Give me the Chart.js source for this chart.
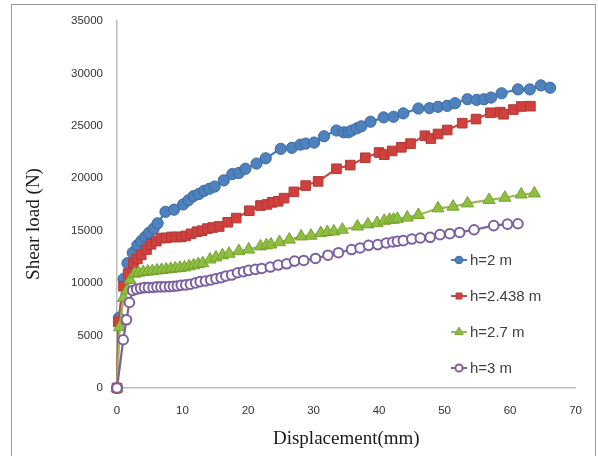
<!DOCTYPE html>
<html>
<head>
<meta charset="utf-8">
<script src="https://cdn.jsdelivr.net/npm/chart.js@4.4.1/dist/chart.umd.min.js"></script>
<style>
  html, body { margin: 0; padding: 0; background: #fff; }
  #wrap { width: 598px; height: 456px; }
</style>
</head>
<body>
<div id="wrap"><canvas id="shear" width="598" height="456"></canvas></div>
<script>
// ─── Data ───
const seriesLabels = ['h=2 m', 'h=2.438 m', 'h=2.7 m', 'h=3 m'];

const dispH2 = [0, 0.3, 1.0, 1.6, 2.4, 3.1, 3.7, 4.3, 4.9, 5.6, 6.2, 7.4, 8.7, 10.1, 10.9, 11.7, 12.5, 13.3, 14.1, 14.9,
  16.3, 17.6, 18.6, 19.6, 21.3, 22.7, 25.0, 26.7, 28.0, 28.8, 30.1, 31.6, 33.5, 34.6, 35.3, 35.8, 36.6, 37.3, 38.7,
  40.7, 42.2, 43.7, 46.0, 47.7, 49.0, 50.4, 51.6, 53.5, 54.9, 56.0, 57.1, 58.7, 61.2, 63.0, 64.7, 66.1];
const loadH2 = [0, 6700, 10400, 11900, 12900, 13600, 14000, 14400, 14800, 15200, 15700, 16800, 17000, 17500, 17900, 18300, 18500, 18800, 19000, 19200,
  19800, 20400, 20500, 20900, 21400, 21900, 22800, 22900, 23200, 23300, 23400, 24000, 24550, 24380, 24380, 24540, 24760, 24950, 25390,
  25800, 25860, 26180, 26650, 26680, 26810, 26900, 27150, 27530, 27470, 27530, 27690, 28100, 28470, 28470, 28850, 28630];

const dispH2438 = [0, 0.2, 1.0, 1.7, 2.5, 3.1, 3.7, 4.5, 5.2, 6.0, 6.7, 7.5, 8.3, 9.0, 9.8, 10.5, 11.3, 12.2, 13.0, 13.8,
  14.6, 15.6, 16.9, 18.2, 20.2, 21.9, 22.9, 23.7, 24.6, 25.5, 27.0, 28.8, 30.7, 33.5, 35.6, 37.9, 40.0, 40.8, 42.0,
  43.4, 44.8, 47.0, 47.9, 49.0, 50.4, 52.7, 54.8, 57.0, 58.5, 59.0, 60.5, 61.7, 63.1];
const loadH2438 = [0, 6300, 9700, 10900, 11900, 12300, 12700, 13200, 13700, 14000, 14300, 14300, 14400, 14400, 14400, 14500, 14700, 14900, 15000, 15200,
  15300, 15400, 15800, 16200, 16900, 17400, 17500, 17700, 17800, 18100, 18700, 19300, 19700, 20900, 21250, 21950, 22450, 22250, 22600,
  22950, 23300, 24050, 23780, 24220, 24600, 25250, 25640, 26240, 26300, 26100, 26550, 26840, 26870];

const dispH27 = [0, 0.4, 1.0, 1.5, 2.0, 2.7, 3.3, 4.0, 4.7, 5.4, 6.1, 6.8, 7.5, 8.2, 8.9, 9.6, 10.3, 11.0, 11.7, 12.4, 13.1,
  14.2, 15.1, 16.1, 17.1, 18.6, 20.1, 21.9, 22.8, 23.5, 24.8, 26.3, 28.1, 29.6, 31.1, 32.1, 33.1, 34.4, 36.7, 38.3,
  39.7, 40.8, 41.6, 42.2, 42.8, 44.3, 46.0, 49.0, 51.3, 53.5, 56.8, 59.2, 61.7, 63.7];
const loadH27 = [0, 5800, 8600, 9300, 10300, 10900, 11000, 11050, 11100, 11150, 11200, 11250, 11300, 11350, 11400, 11450, 11500, 11600, 11700, 11800, 11900,
  12250, 12450, 12650, 12800, 13050, 13200, 13500, 13600, 13680, 13900, 14150, 14450, 14520, 14770, 14870, 14930, 15090, 15400, 15600,
  15720, 15940, 16040, 16050, 16130, 16250, 16500, 17130, 17290, 17600, 17930, 18140, 18450, 18550];

const dispH3 = [0, 0.95, 1.45, 1.9, 2.4, 3.0, 3.6, 4.2, 4.8, 5.5, 6.1, 6.7, 7.3, 8.0, 8.6, 9.2, 9.8, 10.5, 11.2, 12.0,
  12.7, 13.5, 14.3, 15.1, 15.9, 16.6, 17.5, 18.4, 19.3, 20.1, 21.1, 22.1, 23.4, 24.6, 25.9, 27.1, 28.5, 30.3, 32.2,
  33.8, 35.8, 37.1, 38.4, 39.8, 41.1, 42.1, 42.8, 43.7, 45.0, 46.3, 47.8, 49.3, 50.8, 52.3, 54.5, 57.5, 59.6, 61.2];
const loadH3 = [0, 4600, 6500, 8150, 9300, 9420, 9500, 9570, 9570, 9580, 9640, 9640, 9650, 9670, 9700, 9730, 9800, 9830, 9890, 10020,
  10140, 10200, 10300, 10420, 10520, 10680, 10770, 10990, 11090, 11210, 11310, 11400, 11530, 11720, 11840, 12100, 12160, 12350, 12660,
  12900, 13200, 13350, 13600, 13670, 13830, 13920, 13990, 14050, 14200, 14300, 14370, 14620, 14710, 14830, 15090, 15480, 15620, 15660];

const xTicks = [0, 10, 20, 30, 40, 50, 60, 70];
const yTicks = [0, 5000, 10000, 15000, 20000, 25000, 30000, 35000];

// ─── Helpers ───
function pairs(xs, ys) {
    return xs.map((x, i) => ({ x, y: ys[i] }));
}

const TICK_FONT = { family: "'Liberation Sans', Arial, sans-serif", size: 11.5 };
const TITLE_FAMILY = "'Liberation Serif', 'Times New Roman', serif";

// ─── Page frame (thin grey border) ───
const framePlugin = {
    id: 'frame',
    beforeDraw(chart) {
        const ctx = chart.ctx;
        ctx.save();
        ctx.fillStyle = '#ffffff';
        ctx.fillRect(0, 0, chart.width, chart.height);
        ctx.strokeStyle = '#9a9a9a';
        ctx.lineWidth = 1;
        ctx.strokeRect(11.5, 4.5, 584, 470);
        ctx.restore();
    }
};

// ─── Y title (sits a bit below the plot centre, as in the figure) ───
const yTitlePlugin = {
    id: 'yTitle',
    afterDraw(chart) {
        const ctx = chart.ctx;
        ctx.save();
        ctx.translate(34, 224);
        ctx.rotate(-Math.PI / 2);
        ctx.font = '19px ' + TITLE_FAMILY;
        ctx.fillStyle = '#1a1a1a';
        ctx.textAlign = 'center';
        ctx.textBaseline = 'middle';
        ctx.fillText('Shear load (N)', 0, 0);
        ctx.restore();
    }
};

// ─── Legend inside the plot, right side ───
const legendRows = [260, 296, 332, 368];
const legendRadius = [3.8, 4.2, 4.8, 3.6];

const insideLegend = {
    id: 'insideLegend',
    afterDraw(chart) {
        const ctx = chart.ctx;
        const x0 = 451, x1 = 467, tx = 470;
        chart.data.datasets.forEach((ds, i) => {
            const y = legendRows[i];
            ctx.save();
            ctx.strokeStyle = ds.borderColor;
            ctx.lineWidth = 2;
            ctx.beginPath();
            ctx.moveTo(x0, y);
            ctx.lineTo(x1, y);
            ctx.stroke();
            ctx.fillStyle = ds.pointBackgroundColor;
            ctx.strokeStyle = ds.pointBorderColor;
            ctx.lineWidth = ds.pointBorderWidth;
            Chart.helpers.drawPoint(ctx, {
                pointStyle: ds.pointStyle,
                rotation: 0,
                radius: legendRadius[i],
                borderWidth: ds.pointBorderWidth
            }, (x0 + x1) / 2, y);
            ctx.restore();
        });
        ctx.save();
        ctx.font = "15px 'Liberation Sans', Arial, sans-serif";
        ctx.fillStyle = '#404040';
        ctx.textBaseline = 'middle';
        chart.data.datasets.forEach((ds, i) => {
            ctx.fillText(ds.label, tx, legendRows[i] + 1);
        });
        ctx.restore();
    }
};

// ─── Series styling ───
function series(label, xs, ys, style, order) {
    return {
        label,
        data: pairs(xs, ys),
        borderColor: style.line,
        borderWidth: 2.2,
        backgroundColor: style.fill,
        pointStyle: style.shape,
        pointRadius: style.radius,
        pointBackgroundColor: style.fill,
        pointBorderColor: style.edge,
        pointBorderWidth: style.edgeWidth,
        tension: 0,
        clip: false,
        order
    };
}

const datasets = [
    series(seriesLabels[0], dispH2, loadH2,
        { line: '#4a7ebb', fill: '#4f81bd', edge: '#3a6aa0', edgeWidth: 1, shape: 'circle', radius: 5.6 }, 3),
    series(seriesLabels[1], dispH2438, loadH2438,
        { line: '#be4b48', fill: '#d0403d', edge: '#b03a37', edgeWidth: 1, shape: 'rect', radius: 6.8 }, 2),
    series(seriesLabels[2], dispH27, loadH27,
        { line: '#98b954', fill: '#8fbf3f', edge: '#76a032', edgeWidth: 1, shape: 'triangle', radius: 7 }, 1),
    series(seriesLabels[3], dispH3, loadH3,
        { line: '#7d60a0', fill: '#ffffff', edge: '#7d60a0', edgeWidth: 2, shape: 'circle', radius: 4.8 }, 0)
];

// ─── Chart ───
new Chart(document.getElementById('shear').getContext('2d'), {
    type: 'line',
    data: { datasets },
    plugins: [framePlugin, yTitlePlugin, insideLegend],
    options: {
        responsive: false,
        animation: false,
        events: [],
        layout: { padding: { left: 0, top: 18, right: 13, bottom: 0 } },
        plugins: {
            legend: { display: false },
            tooltip: { enabled: false }
        },
        scales: {
            x: {
                type: 'linear',
                min: xTicks[0],
                max: xTicks[xTicks.length - 1],
                afterBuildTicks(scale) { scale.ticks = xTicks.map(v => ({ value: v })); },
                afterFit(scale) { scale.height = 68; },
                grid: { display: false, drawTicks: false },
                border: { display: true, color: '#bdbdbd', width: 1.5 },
                ticks: { padding: 16, color: '#333333', font: TICK_FONT, maxRotation: 0,
                         callback: v => String(v) },
                title: {
                    display: true,
                    text: 'Displacement(mm)',
                    color: '#1a1a1a',
                    font: { family: TITLE_FAMILY, size: 19 },
                    padding: { top: 6, bottom: 6 }
                }
            },
            y: {
                type: 'linear',
                min: yTicks[0],
                max: yTicks[yTicks.length - 1],
                afterBuildTicks(scale) { scale.ticks = yTicks.map(v => ({ value: v })); },
                afterFit(scale) { scale.width = 117; },
                grid: { display: false, drawTicks: false },
                border: { display: true, color: '#bdbdbd', width: 1.5 },
                ticks: { padding: 14, color: '#333333', font: TICK_FONT,
                         callback: v => String(v) }
            }
        }
    }
});
</script>
</body>
</html>
